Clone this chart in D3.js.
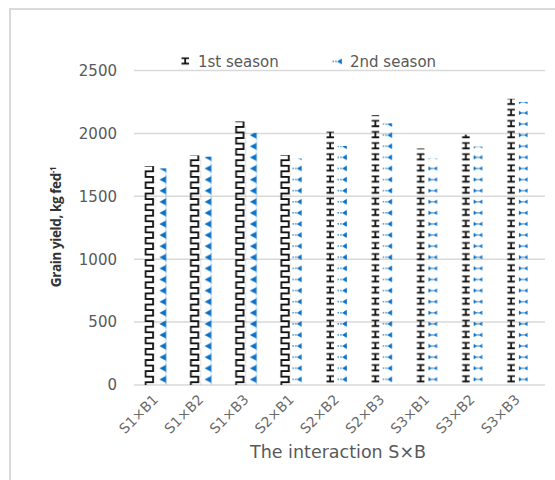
<!DOCTYPE html>
<html>
<head>
<meta charset="utf-8">
<script src="https://cdn.jsdelivr.net/npm/d3@7"></script>
<style>
  html, body { margin: 0; padding: 0; background: #fff; }
  svg { display: block; }
</style>
</head>
<body>
<svg id="chart" width="555" height="480"></svg>
<script>
// Grain yield (kg fed-1) for each S×B combination, two seasons
const categories = ["S1×B1", "S1×B2", "S1×B3", "S2×B1", "S2×B2", "S2×B3", "S3×B1", "S3×B2", "S3×B3"];
const season1 = [1740, 1825, 2095, 1828, 2015, 2145, 1880, 1990, 2275];
const season2 = [1722, 1815, 2005, 1800, 1900, 2080, 1800, 1895, 2250];
const seriesNames = ["1st season", "2nd season"];
const yTicks = [0, 500, 1000, 1500, 2000, 2500];

const svg = d3.select("#chart");
const W = 555, H = 480;
const plot = { left: 134, right: 541, top: 70.5, bottom: 385 };

const x = d3.scaleBand().domain(categories).range([plot.left, plot.right]).padding(0);
const y = d3.scaleLinear().domain([0, 2500]).range([plot.bottom, plot.top]);

const BLACK = "#111";
const BLUE = "#0a70c6";
const barW = 11;
const tileH = 11.1;

// outer chart frame (only the top/left edges fall inside the window)
svg.append("rect")
  .attr("x", 10).attr("y", 9).attr("width", W + 20).attr("height", H + 20)
  .attr("fill", "none").attr("stroke", "#d9d9d9").attr("stroke-width", 2);

// gridlines
svg.append("g").selectAll("line").data(yTicks).join("line")
  .attr("x1", plot.left).attr("x2", plot.right + 4)
  .attr("y1", d => y(d)).attr("y2", d => y(d))
  .attr("stroke", "#d9d9d9").attr("stroke-width", 1.5);

// y axis labels
const yAxis = svg.append("g")
  .attr("transform", `translate(${plot.left - 17},0)`)
  .call(d3.axisLeft(y).tickValues(yTicks).tickSize(0).tickPadding(0).tickFormat(d3.format("d")));
yAxis.select(".domain").remove();
yAxis.selectAll("text")
  .attr("font-family", "DejaVu Sans, sans-serif").attr("font-size", 15)
  .attr("fill", "#595959");

// fill patterns: each glyph style is one tile repeated up the bar
const defs = svg.append("defs");
const glyphs = {
  meander(g) {
    g.append("path").attr("d", `M1.5,0 V2.8 H9 V8.3 H1.5 V${tileH}`)
      .attr("fill", "none").attr("stroke", BLACK).attr("stroke-width", 1.8);
  },
  ibeam(g) {
    g.append("path").attr("d", "M1.5,2.2 H9 M5.2,2.2 V7.6 M1.5,7.6 H9")
      .attr("fill", "none").attr("stroke", BLACK).attr("stroke-width", 1.8);
  },
  tri(g) {
    g.append("path").attr("d", "M3.3,5.5 L9.8,2 L9.8,9 Z").attr("fill", BLUE);
    g.append("path").attr("d", "M10,0.5 V10.5").attr("stroke", BLUE).attr("stroke-width", 0.8).attr("opacity", 0.6);
  },
  dashtri(g) {
    g.append("path").attr("d", "M0.5,5.5 H5").attr("stroke", BLUE).attr("stroke-width", 1.1)
      .attr("stroke-dasharray", "1.5,1.2");
    g.append("path").attr("d", "M5,5.5 L9.8,2.6 L9.8,8.4 Z").attr("fill", BLUE);
  },
  bowtie(g) {
    g.append("path").attr("d", "M1,3.3 L4.4,5.5 L1,7.7 Z M9.6,3.3 L6.2,5.5 L9.6,7.7 Z").attr("fill", BLUE);
    g.append("path").attr("d", "M4,5.5 H6.6").attr("stroke", BLUE).attr("stroke-width", 0.9);
  }
};

// glyph style used by each series, per category
const blackStyle = ["meander", "meander", "meander", "meander", "ibeam", "ibeam", "ibeam", "ibeam", "ibeam"];
const blueStyle = ["tri", "tri", "tri", "dashtri", "dashtri", "dashtri", "bowtie", "bowtie", "bowtie"];

const series = [
  { name: seriesNames[0], values: season1, styles: blackStyle, offset: -12.5 },
  { name: seriesNames[1], values: season2, styles: blueStyle, offset: -0.5 }
];

function makePattern(id, style, px, py) {
  const p = defs.append("pattern")
    .attr("id", id).attr("patternUnits", "userSpaceOnUse")
    .attr("x", px).attr("y", py).attr("width", barW).attr("height", tileH);
  glyphs[style](p);
}

const bars = [];
series.forEach((s, si) => {
  categories.forEach((c, ci) => {
    const bx = x(c) + x.bandwidth() / 2 + s.offset;
    const id = `pat-${si}-${ci}`;
    makePattern(id, s.styles[ci], bx, y(0));
    bars.push({ cat: c, value: s.values[ci], x: bx, id });
  });
});

svg.append("g").selectAll("rect").data(bars).join("rect")
  .attr("x", d => d.x)
  .attr("y", d => y(d.value))
  .attr("width", barW)
  .attr("height", d => y(0) - y(d.value))
  .attr("fill", d => `url(#${d.id})`);

// x axis labels, rotated
const xAxis = svg.append("g")
  .attr("transform", `translate(0,${plot.bottom + 8})`)
  .call(d3.axisBottom(x).tickSize(0).tickPadding(0));
xAxis.select(".domain").remove();
xAxis.selectAll("text")
  .attr("font-family", "DejaVu Sans, sans-serif").attr("font-size", 14)
  .attr("fill", "#6a6a6a")
  .attr("text-anchor", "end")
  .attr("dy", "0.35em")
  .attr("transform", "translate(-1,4) rotate(-45)");

// axis titles
svg.append("text")
  .attr("x", 338).attr("y", 458)
  .attr("text-anchor", "middle")
  .attr("font-family", "DejaVu Sans, sans-serif").attr("font-size", 17.5)
  .attr("fill", "#595959")
  .text("The interaction S×B");

const yt = svg.append("text")
  .attr("transform", "translate(61,227) rotate(-90)")
  .attr("text-anchor", "middle")
  .attr("font-family", "Open Sans, sans-serif")
  .attr("font-weight", "bold").attr("font-size", 13.5)
  .attr("letter-spacing", "-0.4")
  .attr("fill", "#333");
yt.append("tspan").text("Grain yield, kg fed");
yt.append("tspan").attr("dy", -5).attr("font-size", 8).text("-1");

// legend
const legendItems = [
  { name: seriesNames[0], style: "ibeam", sx: 180, tx: 198 },
  { name: seriesNames[1], style: "dashtri", sx: 332, tx: 350 }
];
legendItems.forEach((d, i) => {
  const id = `leg-${i}`;
  const p = defs.append("pattern")
    .attr("id", id).attr("patternUnits", "userSpaceOnUse")
    .attr("x", d.sx).attr("y", 56).attr("width", barW).attr("height", tileH);
  glyphs[d.style](p);
  svg.append("rect").attr("x", d.sx).attr("y", 56).attr("width", 11).attr("height", 10)
    .attr("fill", `url(#${id})`);
  svg.append("text").attr("x", d.tx).attr("y", 67)
    .attr("font-family", "DejaVu Sans, sans-serif").attr("font-size", 15)
    .attr("fill", "#595959").text(d.name);
});
</script>
</body>
</html>
